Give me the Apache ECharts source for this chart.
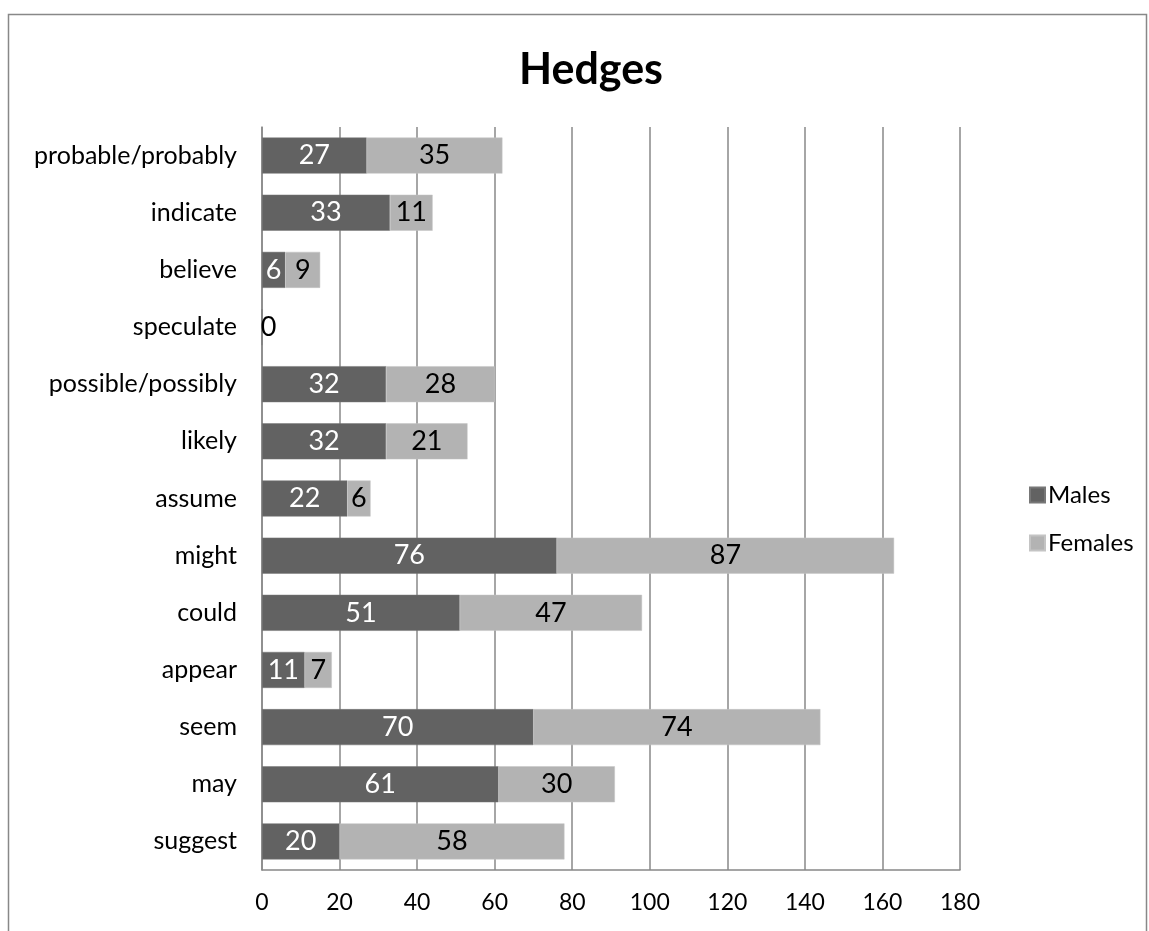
<!DOCTYPE html>
<html>
<head>
<meta charset="utf-8">
<script src="https://cdn.jsdelivr.net/npm/echarts@6/dist/echarts.min.js"></script>
<style>
  html, body { margin: 0; padding: 0; background: #fff; }
  #chart { width: 1149px; height: 931px; }
</style>
</head>
<body>
<div id="chart"></div>
<script>
// Hedge words, listed bottom to top along the category axis
const categories = ['suggest', 'may', 'seem', 'appear', 'could', 'might', 'assume',
  'likely', 'possible/possibly', 'speculate', 'believe', 'indicate', 'probable/probably'];
const males   = [20, 61, 70, 11, 51, 76, 22, 32, 32, 0, 6, 33, 27];
const females = [58, 30, 74, 7, 47, 87, 6, 21, 28, null, 9, 11, 35];
const xTicks = [0, 20, 40, 60, 80, 100, 120, 140, 160, 180];

const FONT = 'Lato, "Open Sans", sans-serif';
const chart = echarts.init(document.getElementById('chart'));

// A zero-length bar still carries its label, drawn in black so it shows on white
const maleData = males.map(v => v === 0
  ? { value: v, label: { color: '#000', position: 'insideLeft', offset: [-6, 0] } }
  : v);

chart.setOption({
  animation: false,
  backgroundColor: '#fff',
  title: {
    text: 'Hedges',
    left: 514,
    top: 44,
    textStyle: { fontFamily: FONT, fontSize: 43, fontWeight: 'bold', color: '#000' }
  },
  legend: {
    orient: 'vertical',
    left: 1024,
    top: 478,
    itemWidth: 15,
    itemHeight: 15,
    itemGap: 24,
    icon: 'rect',
    textStyle: { fontFamily: FONT, fontSize: 24, color: '#000', padding: [0, 0, 0, -2] },
    data: ['Males', 'Females']
  },
  grid: { left: 262, right: 189, top: 127, bottom: 61, containLabel: false },
  xAxis: {
    type: 'value',
    min: xTicks[0],
    max: xTicks[xTicks.length - 1],
    interval: xTicks[1] - xTicks[0],
    axisLine: { show: true, lineStyle: { color: '#888', width: 1.5 } },
    axisTick: { show: false },
    axisLabel: { fontFamily: FONT, fontSize: 23, color: '#000', margin: 21 },
    splitLine: { show: true, lineStyle: { color: '#888', width: 1.5 } }
  },
  yAxis: {
    type: 'category',
    data: categories,
    axisLine: { show: true, lineStyle: { color: '#888', width: 1.5 } },
    axisTick: { show: false },
    axisLabel: { fontFamily: FONT, fontSize: 25, color: '#000', margin: 25 }
  },
  series: [
    {
      name: 'Males',
      type: 'bar',
      stack: 'total',
      barCategoryGap: '37%',
      data: maleData,
      itemStyle: { color: '#626262', borderColor: '#777', borderWidth: 0.5 },
      label: { show: true, position: 'inside', color: '#fff', fontFamily: FONT, fontSize: 27 }
    },
    {
      name: 'Females',
      type: 'bar',
      stack: 'total',
      barCategoryGap: '37%',
      data: females,
      itemStyle: { color: '#b3b3b3', borderColor: '#c4c4c4', borderWidth: 0.5 },
      label: { show: true, position: 'inside', color: '#000', fontFamily: FONT, fontSize: 27 }
    }
  ],
  graphic: [
    {
      type: 'rect',
      shape: { x: 8.5, y: 14.5, width: 1138, height: 940 },
      style: { fill: 'none', stroke: '#888', lineWidth: 1.5 },
      silent: true
    }
  ]
});
</script>
</body>
</html>
